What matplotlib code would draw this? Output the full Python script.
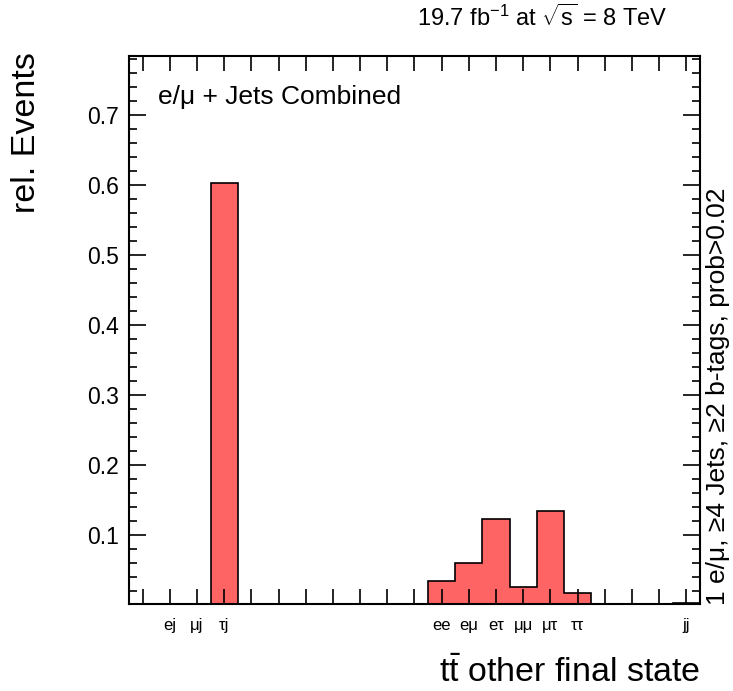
import numpy as np
import matplotlib
matplotlib.use("Agg")
import matplotlib.pyplot as plt
from matplotlib.ticker import MultipleLocator

plt.rcParams['font.family'] = ['Liberation Sans', 'DejaVu Sans']
plt.rcParams['mathtext.fontset'] = 'custom'
plt.rcParams['mathtext.rm'] = 'Liberation Sans'
plt.rcParams['mathtext.it'] = 'Liberation Sans'

# 21 bins, only some carry a label
bin_labels = ['', 'ej', 'μj', 'τj', '', '', '', '', '', '', '',
              'ee', 'eμ', 'eτ', 'μμ', 'μτ', 'ττ', '', '', '', 'jj']
rel_events = [0, 0, 0, 0.603, 0, 0, 0, 0, 0, 0, 0,
              0.0345, 0.060, 0.124, 0.026, 0.134, 0.017, 0, 0, 0, 0.003]

vals = np.array(rel_events)
edges = np.arange(len(vals) + 1) - 0.5
centers = np.arange(len(vals))

fig = plt.figure(figsize=(7.33, 6.91), dpi=100)
ax = fig.add_axes([129/733, 1 - 604/691, (700 - 129)/733, (604 - 56)/691])

ax.stairs(vals, edges, fill=True, color='#ff6464', baseline=0)
ax.stairs(vals, edges, color='black', linewidth=1.2, baseline=0)

ax.set_xlim(edges[0], edges[-1])
ax.set_ylim(0.002, 0.784)

for s in ax.spines.values():
    s.set_linewidth(1.5)

ax.set_xticks(centers)
ax.set_xticklabels(bin_labels, fontsize=12)
ax.tick_params(axis='x', direction='in', length=11, width=1.2, top=True, pad=10)
ax.yaxis.set_major_locator(MultipleLocator(0.1))
ax.yaxis.set_minor_locator(MultipleLocator(0.02))
ax.set_yticks([0.1, 0.2, 0.3, 0.4, 0.5, 0.6, 0.7])
ax.set_yticklabels(['0.1', '0.2', '0.3', '0.4', '0.5', '0.6', '0.7'])
ax.tick_params(axis='y', which='major', direction='in', length=12, width=1.2,
               right=True, labelsize=16.5, pad=7)
ax.tick_params(axis='y', which='minor', direction='in', length=6, width=1.2,
               right=True)

ax.text(0.051, 0.925, 'e/μ + Jets Combined', transform=ax.transAxes,
        fontsize=19, ha='left', va='center')

fig.text(667/733, 1 - 18/691, r'19.7 fb$^{-1}$ at $\sqrt{s}$ = 8 TeV',
         fontsize=17, ha='right', va='center')
fig.text(27/733, 1 - 52/691, 'rel. Events', rotation=90, fontsize=24.5,
         ha='center', va='top')
fig.text(700/733, 1 - 673/691, r'$\mathrm{t\bar{t}}$ other final state',
         fontsize=24.5, ha='right', va='center')
fig.text(718/733, 1 - 605/691, '1 e/μ, ≥4 Jets, ≥2 b-tags, prob>0.02',
         rotation=90, fontsize=19, ha='center', va='bottom')

fig.savefig('out.png', dpi=100)
